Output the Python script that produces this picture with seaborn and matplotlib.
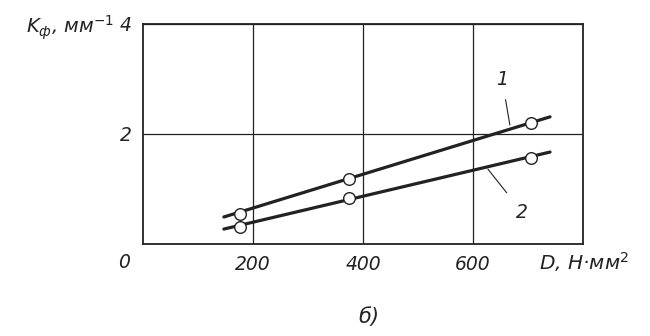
import numpy as np
import pandas as pd
import seaborn as sns
import matplotlib.pyplot as plt

# measured points (D, H*mm^2 -> K_f, mm^-1)
d_pts = [176, 374, 706]
k1_pts = [0.55, 1.18, 2.20]
k2_pts = [0.31, 0.84, 1.56]

# fitted straight lines, drawn beyond the points
d_fit = [147, 740]
k1_fit = [0.49, 2.31]
k2_fit = [0.27, 1.67]

x_ticks = [200, 400, 600]
y_ticks = [2, 4]

sns.set_theme(style="white")
plt.rcParams['font.family'] = ['DejaVu Sans']
ink = '#222222'

fig = plt.figure(figsize=(6.5, 3.36), dpi=100)
ax = fig.add_axes([0.22, 0.274, 0.677, 0.655])

pts = pd.DataFrame({'D': d_pts * 2, 'K': k1_pts + k2_pts,
                    'curve': ['1'] * 3 + ['2'] * 3})
fit = pd.DataFrame({'D': d_fit * 2, 'K': k1_fit + k2_fit,
                    'curve': ['1'] * 2 + ['2'] * 2})

sns.lineplot(data=fit, x='D', y='K', units='curve', estimator=None,
             color=ink, linewidth=2.3, ax=ax, legend=False)
sns.scatterplot(data=pts, x='D', y='K', marker='o', s=70,
                facecolor='white', edgecolor=ink, linewidth=1.0,
                ax=ax, legend=False, zorder=3)

ax.set_xlim(0, 800)
ax.set_ylim(0, 4)
ax.set_xticks(x_ticks)
ax.set_yticks(y_ticks)
ax.grid(True, color=ink, linewidth=0.9)
for sp in ax.spines.values():
    sp.set_color(ink)
    sp.set_linewidth(1.3)
ax.tick_params(length=0, pad=8, labelsize=13.5, labelcolor=ink)
for lbl in ax.get_xticklabels() + ax.get_yticklabels():
    lbl.set_fontstyle('italic')
ax.set_xlabel('')
ax.set_ylabel('')

txt = dict(style='italic', color=ink)
ax.text(-35, -0.33, '0', ha='center', va='center', fontsize=13.5, **txt)
ax.text(720, -0.33, 'D, Н·мм$^2$', ha='left', va='center', fontsize=14.5,
        **txt)
ax.text(-52, 3.92, 'K$_\\mathregular{ф}$, мм$^{-1}$', ha='right',
        va='center', fontsize=14, **txt)
ax.text(410, -1.33, 'б)', ha='center', va='center', fontsize=15, **txt)

# curve labels with leader lines
ax.annotate('1', xy=(667, 2.16), xytext=(653, 2.98), ha='center',
            va='center', fontsize=13.5, style='italic', color=ink,
            arrowprops=dict(arrowstyle='-', color=ink, lw=0.8,
                            shrinkA=5, shrinkB=0))
ax.annotate('2', xy=(627, 1.36), xytext=(689, 0.58), ha='center',
            va='center', fontsize=13.5, style='italic', color=ink,
            arrowprops=dict(arrowstyle='-', color=ink, lw=0.8,
                            shrinkA=7, shrinkB=0))

fig.savefig('out.png', dpi=100)
